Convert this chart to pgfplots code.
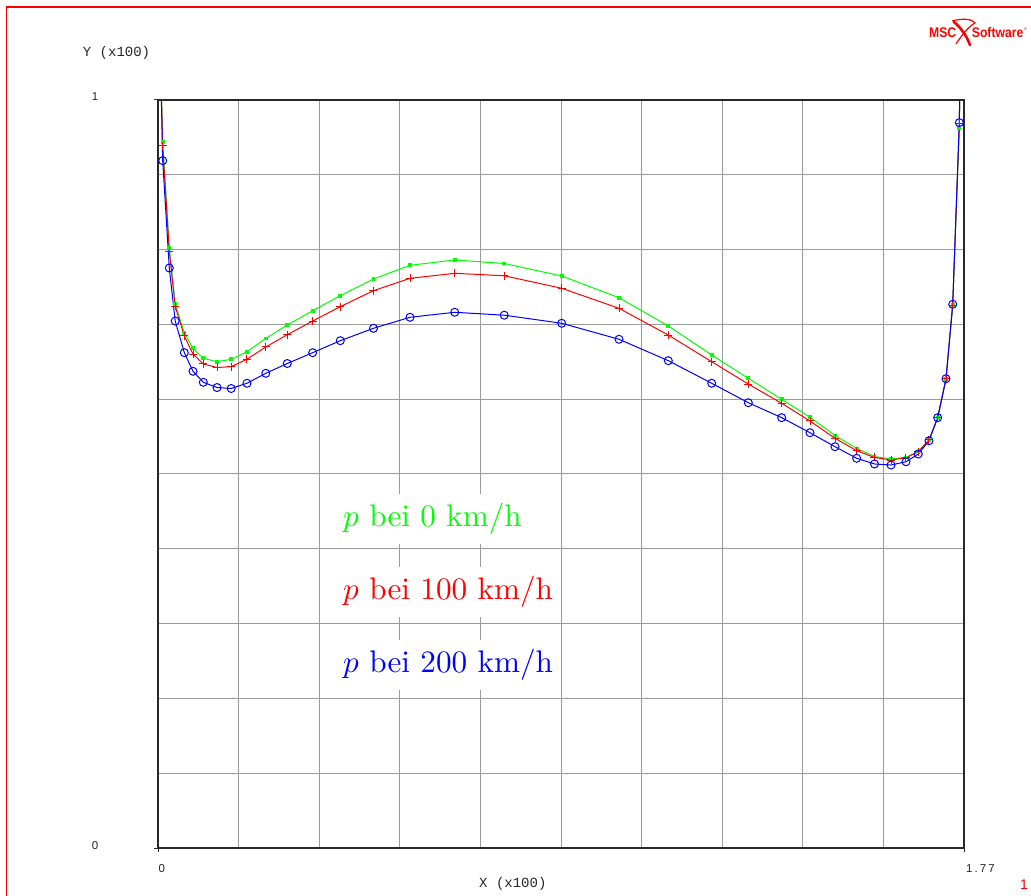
\documentclass[border=0pt]{standalone}
\usepackage{fontspec}
\usepackage{graphicx}
\usepackage{pgfplots}
\usepackage{pgfplotstable}
\pgfplotsset{compat=1.18}
\newfontfamily\monofont{Liberation Mono}
\newfontfamily\sansfont{Liberation Sans}
\newfontfamily\tickfont[LetterSpace=18]{Liberation Sans}
\newfontfamily\logofont{Liberation Sans Bold}
\definecolor{gridgray}{RGB}{155,155,155}
\definecolor{axisdark}{RGB}{40,40,40}

\pgfplotstableread{
x y
0.0055 1.0535
0.0103 0.9439
0.0248 0.8021
0.0378 0.7273
0.0578 0.6885
0.0769 0.6681
0.0995 0.6547
0.1296 0.6501
0.1607 0.6533
0.1954 0.6635
0.2367 0.6812
0.2839 0.6992
0.3397 0.7183
0.4003 0.7384
0.4732 0.7607
0.5534 0.7790
0.6516 0.7861
0.7603 0.7814
0.8865 0.7647
1.0124 0.7357
1.1206 0.6979
1.2159 0.6591
1.2963 0.6279
1.3696 0.5999
1.4318 0.5758
1.4867 0.5515
1.5343 0.5341
1.5734 0.5234
1.6097 0.5201
1.6426 0.5221
1.6696 0.5301
1.6931 0.5455
1.7122 0.5753
1.7305 0.6274
1.7452 0.7259
1.7597 0.9626
1.7623 1.0800
}\greendata

\pgfplotstableread{
x y
0.0055 1.0535
0.0103 0.9385
0.0248 0.7981
0.0378 0.7242
0.0578 0.6845
0.0769 0.6602
0.0995 0.6471
0.1296 0.6424
0.1607 0.6435
0.1954 0.6535
0.2367 0.6698
0.2839 0.6862
0.3397 0.7045
0.4003 0.7237
0.4732 0.7451
0.5534 0.7616
0.6516 0.7683
0.7603 0.7650
0.8865 0.7483
1.0124 0.7215
1.1206 0.6858
1.2159 0.6501
1.2963 0.6203
1.3696 0.5945
1.4318 0.5709
1.4867 0.5477
1.5343 0.5312
1.5734 0.5221
1.6097 0.5187
1.6426 0.5218
1.6696 0.5298
1.6931 0.5455
1.7122 0.5753
1.7305 0.6274
1.7452 0.7259
1.7597 0.9689
1.7623 1.0800
}\reddata

\pgfplotstableread{
x y
0.0055 1.0535
0.0103 0.9189
0.0248 0.7754
0.0378 0.7045
0.0578 0.6622
0.0769 0.6373
0.0995 0.6226
0.1296 0.6156
0.1607 0.6143
0.1954 0.6213
0.2367 0.6346
0.2839 0.6477
0.3397 0.6622
0.4003 0.6782
0.4732 0.6948
0.5534 0.7095
0.6516 0.7162
0.7603 0.7123
0.8865 0.7015
1.0124 0.6801
1.1206 0.6515
1.2159 0.6213
1.2963 0.5953
1.3696 0.5753
1.4318 0.5552
1.4867 0.5365
1.5343 0.5210
1.5734 0.5134
1.6097 0.5120
1.6426 0.5164
1.6696 0.5267
1.6931 0.5445
1.7122 0.5753
1.7305 0.6274
1.7452 0.7269
1.7597 0.9697
1.7623 1.0800
}\bluedata

\begin{document}
\begin{tikzpicture}
\path[use as bounding box] (0pt,0pt) rectangle (1031pt,895pt);
\begin{axis}[
  at={(158pt,47pt)}, anchor=south west,
  scale only axis, width=806pt, height=748pt,
  xmin=0, xmax=1.77, ymin=0, ymax=1,
  xtick={0,0.177,0.354,0.531,0.708,0.885,1.062,1.239,1.416,1.593,1.77},
  ytick={0,0.1,0.2,0.3,0.4,0.5,0.6,0.7,0.8,0.9,1},
  xticklabels={}, yticklabels={},
  tick pos=left, major tick length=0pt,
  grid=major,
  major grid style={gridgray, line width=1pt},
  extra x ticks={0,1.77}, extra y ticks={0,1},
  extra x tick labels={}, extra y tick labels={},
  extra tick style={grid=none, tick align=outside, major tick length=4pt, tick style={axisdark, line width=1pt}},
  axis line style={axisdark, line width=1.2pt},
  clip=true,
]
\addplot[green, line width=1pt, mark=square*, mark size=1.4pt, mark options={solid}] table[x=x,y=y] {\greendata};
\addplot[red, line width=1pt, mark=+, mark size=4pt, mark options={solid, line width=1pt}] table[x=x,y=y] {\reddata};
\addplot[blue, line width=1pt, mark=o, mark size=4pt, mark options={solid, line width=1pt}] table[x=x,y=y] {\bluedata};
\end{axis}

% legend boxes and texts
\fill[white] (322pt,351pt) rectangle (558pt,401pt);
\fill[white] (322pt,278pt) rectangle (558pt,328pt);
\fill[white] (322pt,205pt) rectangle (558pt,255pt);
\node[anchor=base west, inner sep=0pt, green] at (343pt,368pt) {\scalebox{3.12}{$p$ bei 0 km/h}};
\node[anchor=base west, inner sep=0pt, red] at (343pt,295pt) {\scalebox{3.12}{$p$ bei 100 km/h}};
\node[anchor=base west, inner sep=0pt, blue] at (343pt,222.3pt) {\scalebox{3.12}{$p$ bei 200 km/h}};

% axis labels and tick labels
\node[anchor=base west, inner sep=0pt, font=\monofont\fontsize{14}{16}\selectfont, black!85] at (82.7pt,838.3pt) {Y (x100)};
\node[anchor=base west, inner sep=0pt, font=\monofont\fontsize{14}{16}\selectfont, black!85] at (479pt,8pt) {X (x100)};
\node[anchor=base, inner sep=0pt, font=\sansfont\fontsize{11.5}{13}\selectfont, black!85] at (95pt,794.3pt) {1};
\node[anchor=base, inner sep=0pt, font=\sansfont\fontsize{11.5}{13}\selectfont, black!85] at (95pt,46pt) {0};
\node[anchor=base, inner sep=0pt, font=\sansfont\fontsize{11.5}{13}\selectfont, black!85] at (161.7pt,23pt) {0};
\node[anchor=base west, inner sep=0pt, font=\tickfont\fontsize{11.5}{13}\selectfont, black!85] at (966pt,23pt) {1.77};

% frame
\draw[red, line width=1.2pt] (6.3pt,-5pt) -- (6.3pt,888pt) -- (1040pt,888pt);

% logo
\node[anchor=base west, inner sep=0pt, red, xscale=0.87, font=\logofont\fontsize{14}{16}\selectfont] at (929pt,857.7pt) {MSC};
\node[anchor=base west, inner sep=0pt, red, xscale=0.87, font=\logofont\fontsize{14}{16}\selectfont] at (971.7pt,857.7pt) {Software};
\node[anchor=base west, inner sep=0pt, red, font=\sansfont\fontsize{4}{5}\selectfont] at (1024pt,864pt) {\textregistered};
\draw[red, line width=2.6pt, line cap=round] (954pt,873pt) .. controls (962pt,866pt) and (966pt,860pt) .. (970pt,850pt);
\draw[red, line width=1.2pt] (956pt,851pt) .. controls (962pt,860pt) and (968pt,868pt) .. (975pt,872pt) .. controls (972pt,876pt) and (964pt,877pt) .. (952pt,874pt);

% page number
\node[anchor=base, inner sep=0pt, red, font=\sansfont\fontsize{14}{16}\selectfont] at (1024pt,6pt) {1};
\end{tikzpicture}
\end{document}
